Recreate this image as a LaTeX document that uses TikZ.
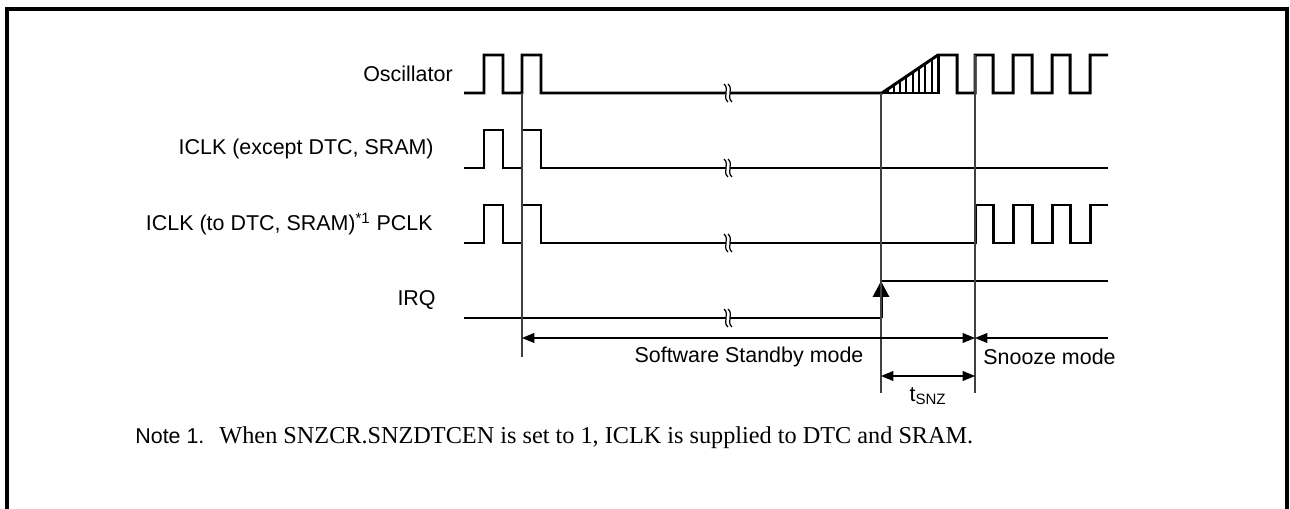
\documentclass[tikz,border=0pt]{standalone}
\usepackage{fontspec}
\setmainfont{Liberation Sans}
\newfontfamily\notefont{Liberation Serif}
\usepackage{tikz}
\usetikzlibrary{arrows.meta}

\begin{document}
\begin{tikzpicture}[
      x=0.2mm,y=-0.2mm,
      wave/.style={line width=1.7pt},
      hatch/.style={line width=1.1pt},
      guide/.style={line width=0.6pt,black!75},
      brk/.style={line width=0.7pt},
      dim/.style={line width=0.6pt},
      lbl/.style={anchor=east,inner sep=0pt,font=\fontsize{12.2}{14}\selectfont},
      txt/.style={inner sep=0pt,font=\fontsize{12.2}{14}\selectfont},
      >={Triangle[length=7pt,width=5.6pt]}
]
\useasboundingbox (0,0) rectangle (1290,509);
\draw[line width=2pt] (7,509) -- (7,9) -- (1287,9) -- (1287,509);

\node[lbl] (osc) at (453,74) {Oscillator};
\node[lbl] (iclka) at (434,149) {ICLK (except DTC, SRAM)};
\node[lbl] (iclkb) at (433,224) {ICLK (to DTC, SRAM)\textsuperscript{*1} PCLK};
\node[lbl] (irq) at (436,300) {IRQ};

\draw[wave] (464,93) -| (484,55) -| (503,93) -| (522,55) -| (541,93) -- (882,93) -- (938,55) -- (957,55) -- (957,93)
      -| (975,55) -| (993,93) -| (1013,55) -| (1032,93) -| (1052,55) -| (1070,93) -| (1090,55) -- (1108,55);
\draw[wave] (938,55) -- (938,93) -- (882,93);
\foreach \x in {888,894,900,906,913,919,925,932}
      \draw[hatch] (\x,93) -- (\x,{93-(\x-882)*38/56});
\draw[wave] (464,168) -| (484,130) -| (503,168) -| (522,130) -| (541,168) -- (1108,168);
\draw[wave] (464,243) -| (484,205) -| (503,243) -| (522,205) -| (541,243) -- (975,243) -- (975,205)
      -| (993,243) -| (1013,205) -| (1032,243) -| (1052,205) -| (1070,243) -| (1090,205) -- (1108,205);
\draw[wave] (464,318) -- (881,318);
\draw[wave,-{Triangle[length=9pt,width=9pt]}] (881,318) -- (881,281);
\draw[wave] (881,281) -- (1108,281);

\foreach \y in {93,168,243,318} {
  \fill[white] (724,\y-9) .. controls (730,\y-4) and (722,\y+4) .. (728,\y+9) -- (732,\y+9)
        .. controls (726,\y+4) and (734,\y-4) .. (728,\y-9) -- cycle;
  \draw[brk] (724,\y-9) .. controls (730,\y-4) and (722,\y+4) .. (728,\y+9);
  \draw[brk] (728,\y-9) .. controls (734,\y-4) and (726,\y+4) .. (732,\y+9);
}

\draw[guide] (522,93) -- (522,357);
\draw[guide] (881,93) -- (881,393);
\draw[guide] (975,55) -- (975,393);

\coordinate (sbyL) at (522,338);
\coordinate (sbyR) at (975,338);
\coordinate (snzE) at (1108,338);
\coordinate (tL) at (881,376);
\coordinate (tR) at (975,376);
\draw[dim,<->] (sbyL) -- (sbyR);
\draw[dim,<-] (sbyR) -- (snzE);
\draw[dim,<->] (tL) -- (tR);

\node[txt] (sbytxt) at (749,357) {Software Standby mode};
\node[txt,anchor=west] (snztxt) at (983,357) {Snooze mode};
\node[txt] (tsnz) at (928,396) {t\textsubscript{SNZ}};
\node[txt,anchor=west] (note) at (135,438) {Note 1.\hspace{0.7em}{\notefont\fontsize{13.8}{16}\selectfont When SNZCR.SNZDTCEN is set to 1, ICLK is supplied to DTC and SRAM.}};
\end{tikzpicture}
\end{document}
